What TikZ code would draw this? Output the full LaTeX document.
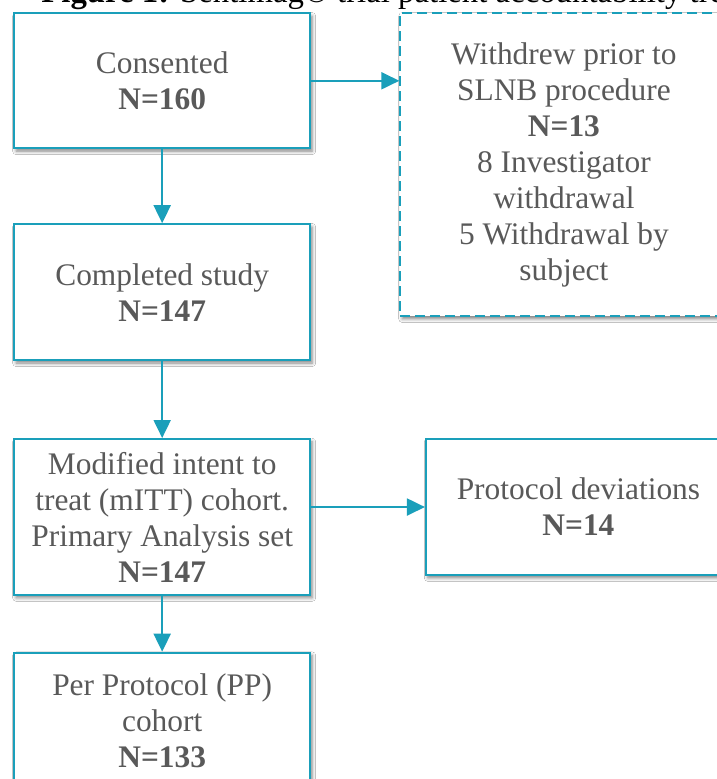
\documentclass[tikz,border=0pt]{standalone}
\usepackage{fontspec}
\setmainfont{Liberation Serif}
\usepackage{xcolor}
\usepackage{tikz}
\usetikzlibrary{positioning,calc,arrows.meta,shadows.blur}
\definecolor{boxteal}{HTML}{1A9FBA}
\definecolor{boxtext}{HTML}{595959}

\begin{document}
\begin{tikzpicture}[
    box/.style={draw=boxteal, line width=1pt, fill=white, rectangle, align=center,
        text=boxtext, font=\fontsize{15.7}{18}\selectfont, minimum width=5.2cm, inner sep=2pt,
        blur shadow={shadow xshift=1pt, shadow yshift=-1.4pt, shadow blur radius=1.8pt, shadow opacity=50}},
    dashbox/.style={box, dash pattern=on 5pt off 2.5pt},
    flow/.style={draw=boxteal, line width=1pt, -{Triangle[length=9pt,width=8.5pt]}}
]
    \path[use as bounding box, fill=white] (0,0) rectangle (12.6,-13.69);

    % Title (cut off at the top)
    \node[anchor=base west, inner sep=0pt, font=\fontsize{16.4}{19}\selectfont] (T) at (0.72,-0.05)
        {\textbf{Figure 1:} Sentimag® trial patient accountability tree};

    % Main column
    \node[box, minimum height=2.37cm] (C) at (2.85,-1.42) {Consented\\\textbf{N=160}};
    \node[box, minimum height=2.39cm, below=1.3cm of C] (S) {Completed study\\\textbf{N=147}};
    \node[box, minimum height=2.74cm, below=1.35cm of S] (MITT)
        {Modified intent to\\treat (mITT) cohort.\\Primary Analysis set\\\textbf{N=147}};
    \node[box, minimum height=2.39cm, below=0.98cm of MITT] (PP) {Per Protocol (PP)\\cohort\\\textbf{N=133}};

    % Side boxes
    \node[dashbox, minimum width=5.75cm, minimum height=5.32cm, right=1.55cm of C.north east, anchor=north west] (W)
        {Withdrew prior to\\SLNB procedure\\\textbf{N=13}\\8 Investigator\\withdrawal\\5 Withdrawal by\\subject};
    \node[box, minimum width=5.36cm, minimum height=2.39cm, right=2.0cm of MITT.north east, anchor=north west] (PD)
        {Protocol deviations\\\textbf{N=14}};

    % Arrows
    \draw[flow] (C) -- (S);
    \draw[flow] (S) -- (MITT);
    \draw[flow] (MITT) -- (PP);
    \draw[flow] (C.east) -- (C.east -| W.west);
    \draw[flow] (PD.west -| MITT.east) -- (PD.west);
\end{tikzpicture}
\end{document}
